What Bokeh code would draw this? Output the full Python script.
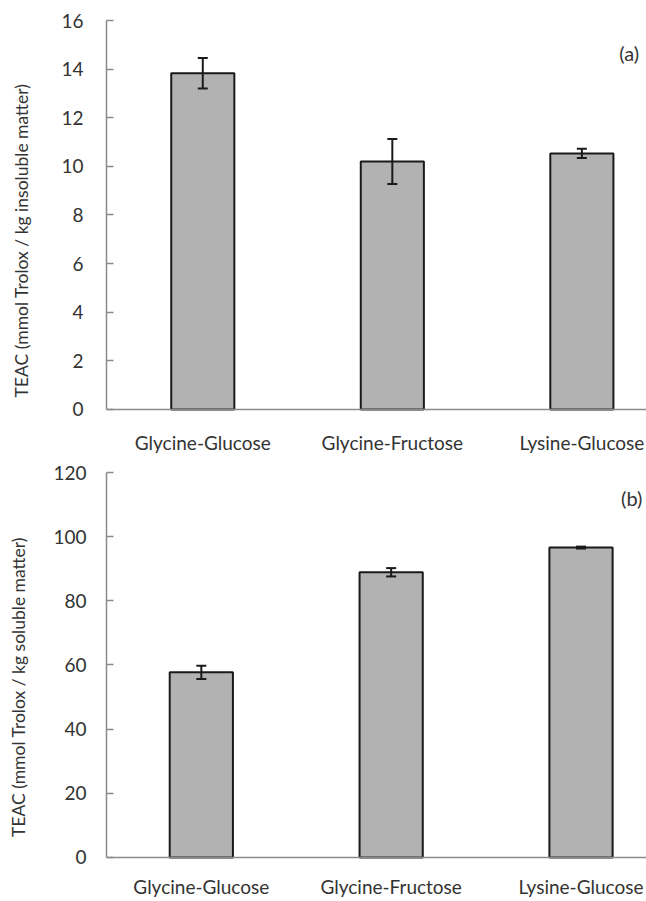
from bokeh.plotting import figure
from bokeh.layouts import column
from bokeh.models import (ColumnDataSource, Range1d, FixedTicker, SingleIntervalTicker,
                          Whisker, TeeHead, Label)
from bokeh.embed import file_html
from bokeh.resources import INLINE

# ---- data ----
categories = ["Glycine-Glucose", "Glycine-Fructose", "Lysine-Glucose"]
insoluble_teac = [13.83, 10.2, 10.53]
insoluble_err = [0.63, 0.93, 0.19]
soluble_teac = [57.7, 88.9, 96.6]
soluble_err = [2.1, 1.3, 0.3]

FONT = "Lato"
TXT = "#333333"
AX = "#8a8a8a"
BAR_LINE = "#1a1a1a"


def panel(values, errs, ylab, ymin, ymax, yint, tag, height, b_top, b_left,
          xr, tag_xy, lab_standoff, xlab_standoff, ylab_standoff):
    idx = list(range(len(categories)))
    src = ColumnDataSource(dict(
        x=idx, top=values,
        upper=[v + e for v, e in zip(values, errs)],
        lower=[v - e for v, e in zip(values, errs)],
    ))
    p = figure(width=646, height=height, output_backend="svg", toolbar_location=None,
               x_range=Range1d(*xr), y_range=Range1d(ymin, ymax),
               min_border_top=b_top, min_border_bottom=0,
               min_border_left=b_left, min_border_right=0)
    p.outline_line_color = None
    p.xgrid.visible = False
    p.ygrid.visible = False
    p.background_fill_color = "white"
    p.border_fill_color = "white"

    p.vbar(x="x", top="top", width=0.333, bottom=0, source=src,
           fill_color="#b2b2b2", line_color=BAR_LINE, line_width=2)
    w = Whisker(base="x", upper="upper", lower="lower", source=src, level="overlay",
                line_color=BAR_LINE, line_width=2,
                upper_head=TeeHead(size=10, line_color=BAR_LINE, line_width=2),
                lower_head=TeeHead(size=10, line_color=BAR_LINE, line_width=2))
    p.add_layout(w)

    # x axis, drawn at y = 0 inside the frame
    xa = p.xaxis[0]
    xa.fixed_location = 0
    xa.ticker = FixedTicker(ticks=idx)
    xa.major_label_overrides = {i: c for i, c in zip(idx, categories)}
    xa.major_tick_line_color = None
    xa.minor_tick_line_color = None
    xa.axis_line_color = AX
    xa.axis_line_width = 1.5
    xa.major_label_standoff = xlab_standoff
    xa.major_label_text_font = FONT
    xa.major_label_text_font_size = "19px"
    xa.major_label_text_color = TXT

    # y axis
    ya = p.yaxis[0]
    ya.bounds = (0, ymax)
    ya.ticker = SingleIntervalTicker(interval=yint)
    ya.minor_tick_line_color = None
    ya.axis_line_color = AX
    ya.axis_line_width = 1.5
    ya.major_tick_line_color = AX
    ya.major_tick_line_width = 1.5
    ya.major_tick_in = 7
    ya.major_tick_out = 0
    ya.major_label_standoff = lab_standoff
    ya.major_label_text_font = FONT
    ya.major_label_text_font_size = "19px"
    ya.major_label_text_color = TXT
    ya.axis_label = ylab
    ya.axis_label_text_font = FONT
    ya.axis_label_text_font_size = "17.5px"
    ya.axis_label_text_font_style = "normal"
    ya.axis_label_text_color = TXT
    ya.axis_label_standoff = ylab_standoff

    p.add_layout(Label(x=tag_xy[0], y=tag_xy[1], text=tag, text_align="center",
                       text_baseline="middle", text_font=FONT, text_font_size="20px",
                       text_color=TXT))
    return p


p1 = panel(insoluble_teac, insoluble_err,
           "TEAC (mmol Trolox / kg insoluble matter)", -2.098, 16, 2, "(a)",
           height=460, b_top=20, b_left=106,
           xr=(-0.508, 2.341), tag_xy=(2.25, 14.65),
           lab_standoff=19, xlab_standoff=16, ylab_standoff=26)
p2 = panel(soluble_teac, soluble_err,
           "TEAC (mmol Trolox / kg soluble matter)", -13.72, 120, 20, "(b)",
           height=441, b_top=12, b_left=101,
           xr=(-0.4995, 2.345), tag_xy=(2.267, 111.9),
           lab_standoff=16, xlab_standoff=12, ylab_standoff=21)

layout = column(p1, p2, spacing=0)
open("out.html", "w").write(file_html(layout, INLINE))
